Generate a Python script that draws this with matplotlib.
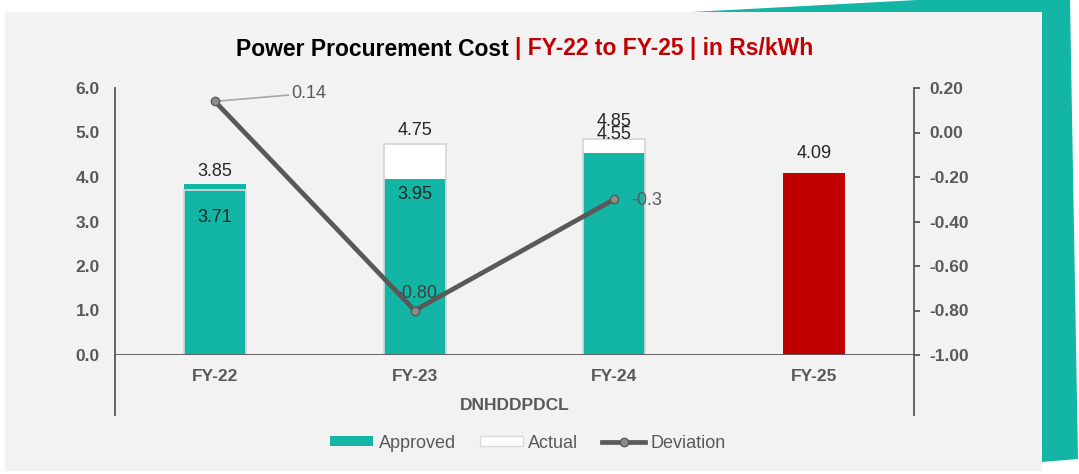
""" Power procurement cost chart, FY-22 to FY-25. """

import matplotlib
matplotlib.use("Agg")
import matplotlib.pyplot as plt
from matplotlib.patches import Patch, Rectangle, Polygon
from matplotlib.lines import Line2D

plt.rcParams['font.family'] = ['Liberation Sans', 'DejaVu Sans']

# data
categories = ['FY-22', 'FY-23', 'FY-24', 'FY-25']
approved = [3.85, 3.95, 4.55, 4.09]
actual = [3.71, 4.75, 4.85]
deviation = [0.14, -0.80, -0.30]
approved_labels = ['3.85', '3.95', '4.55', '4.09']
actual_labels = ['3.71', '4.75', '4.85']
deviation_labels = ['0.14', '-0.80', '-0.3']
group_label = 'DNHDDPDCL'

teal = '#13B5A5'
red = '#C00000'
grey = '#595959'
W, H = 1079, 474

fig = plt.figure(figsize=(W / 100, H / 100), dpi=100)
fig.patch.set_facecolor('white')

# decorative teal shape behind the grey panel
fig.patches.append(Polygon([(692 / W, 1 - 12 / H), (917 / W, 1.0), (1070 / W, 1.0),
                            (1078 / W, 1 - 459 / H), (1042 / W, 1 - 462 / H), (1042 / W, 1 - 12 / H)],
                           closed=True, transform=fig.transFigure, facecolor=teal,
                           edgecolor='none', zorder=-2))
fig.patches.append(Rectangle((5 / W, 1 - 471 / H), (1042 - 5) / W, (471 - 12) / H,
                             transform=fig.transFigure, facecolor='#F2F2F2',
                             edgecolor='none', zorder=-1))

ax = fig.add_axes([115 / W, 1 - 355 / H, 799 / W, 267 / H])
ax.set_facecolor('none')
ax2 = ax.twinx()

x = list(range(len(categories)))
bw = 0.31

# actual behind, approved in front, actual outline on top
ax.bar(x[:3], actual, width=bw, color='white', edgecolor='#D9D9D9', linewidth=1.2, zorder=1)
ax.bar(x, approved, width=bw, color=[teal, teal, teal, red], edgecolor='none', zorder=2)
ax.bar(x[:3], actual, width=bw, color='none', edgecolor='#D9D9D9', linewidth=1.2, zorder=3)

ax.set_xlim(-0.5, 3.5)
ax.set_ylim(0, 6)
ax2.set_ylim(-1.0, 0.2)

for a in (ax, ax2):
    for s in a.spines.values():
        s.set_visible(False)

ext = -60 / 267
ax.plot([0, 0], [ext, 1], transform=ax.transAxes, color=grey, lw=1.3, clip_on=False, zorder=5)
ax.plot([1, 1], [ext, 1], transform=ax.transAxes, color=grey, lw=1.3, clip_on=False, zorder=5)
ax.axhline(0, color=grey, lw=1.3, zorder=5)

ax.set_yticks([0, 1, 2, 3, 4, 5, 6])
ax.set_yticklabels(['%.1f' % v for v in [0, 1, 2, 3, 4, 5, 6]])
ax.tick_params(axis='y', length=0, pad=11, labelsize=12.5, labelcolor=grey)
for t in ax.get_yticklabels():
    t.set_fontweight('bold')

ax2.set_yticks([-1.0, -0.8, -0.6, -0.4, -0.2, 0.0, 0.2])
ax2.set_yticklabels(['%.2f' % v for v in [-1.0, -0.8, -0.6, -0.4, -0.2, 0.0, 0.2]])
ax2.tick_params(axis='y', length=4, width=1.3, color=grey, pad=7, labelsize=12.5, labelcolor=grey)
for t in ax2.get_yticklabels():
    t.set_fontweight('bold')

ax.set_xticks(x)
ax.set_xticklabels(categories)
ax.tick_params(axis='x', length=0, pad=10, labelsize=12.5, labelcolor=grey)
for t in ax.get_xticklabels():
    t.set_fontweight('bold')
ax.text(0.5, -51 / 267, group_label, transform=ax.transAxes, ha='center', va='center',
        fontsize=12.5, fontweight='bold', color=grey)

# deviation line
ax2.plot(x[:3], deviation, color=grey, lw=3.4, marker='o', markersize=6,
         markerfacecolor='#8C8C8C', markeredgecolor=grey, markeredgewidth=1, zorder=6)

# bar labels (offsets in pixels)
lbl = dict(ha='center', va='center', fontsize=13, textcoords='offset pixels', zorder=7)
appr_off = [12, -15, 18, 19]
for i in x:
    ax.annotate(approved_labels[i], (x[i], approved[i]), xytext=(0, appr_off[i]),
                color='#262626', **lbl)
act_off = [-28, 13, 18]
for i in range(3):
    ax.annotate(actual_labels[i], (x[i], actual[i]), xytext=(0, act_off[i]),
                color='#262626', **lbl)

ax2.annotate(deviation_labels[0], (x[0], deviation[0]), xytext=(94, 8),
             textcoords='offset pixels', ha='center', va='center', fontsize=13, color=grey,
             arrowprops=dict(arrowstyle='-', color='#A6A6A6', lw=1.2, shrinkA=0, shrinkB=0))
ax2.annotate(deviation_labels[1], (x[1], deviation[1]), xytext=(2, 17),
             textcoords='offset pixels', ha='center', va='center', fontsize=13, color='#404040')
ax2.annotate(deviation_labels[2], (x[2], deviation[2]), xytext=(17, -1),
             textcoords='offset pixels', ha='left', va='center', fontsize=13, color=grey)

# title
t1 = fig.text(0.5, 1 - 49 / H, 'Power Procurement Cost ', ha='right', va='center',
              fontsize=16.5, fontweight='bold', color='black')
fig.canvas.draw()
bb = t1.get_window_extent()
t2 = fig.text(0, 1 - 49 / H, '| FY-22 to FY-25 | in Rs/kWh', ha='left', va='center',
              fontsize=16.5, fontweight='bold', color=red)
bb2 = t2.get_window_extent()
total = bb.width + bb2.width
left = 525 - total / 2
t1.set_ha('left')
t1.set_x(left / W)
t2.set_x((left + bb.width) / W)

handles = [Patch(facecolor=teal, edgecolor='none'),
           Patch(facecolor='white', edgecolor='#D9D9D9'),
           Line2D([0], [0], color=grey, lw=3.4, marker='o', markersize=6,
                  markerfacecolor='#8C8C8C', markeredgecolor=grey)]
fig.legend(handles, ['Approved', 'Actual', 'Deviation'], loc='center',
           bbox_to_anchor=(528 / W, 1 - 443 / H), ncol=3, frameon=False,
           fontsize=13, labelcolor=grey, handlelength=2.4, handleheight=0.5,
           handletextpad=0.3, columnspacing=1.3)

fig.savefig('out.png', dpi=100)
